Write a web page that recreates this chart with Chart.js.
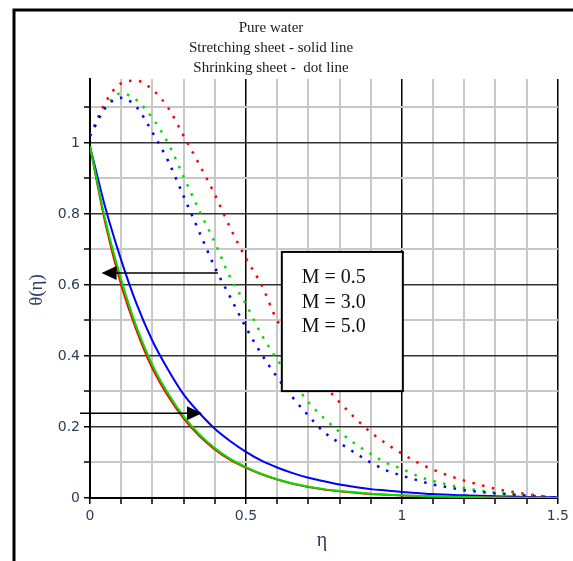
<!DOCTYPE html>
<html lang="en">
<head>
  <meta charset="UTF-8" />
  <title>Pure water - temperature profiles</title>
  <script src="https://cdn.jsdelivr.net/npm/chart.js"></script>
  <style>
    html, body { margin: 0; padding: 0; background: #fff; }
    #wrap { width: 573px; height: 561px; }
  </style>
</head>
<body>
  <div id="wrap"><canvas id="thetaChart" width="573" height="561"></canvas></div>

  <script>
    // eta grid shared by every curve
    const eta = [0, 0.05, 0.1, 0.15, 0.2, 0.25, 0.3, 0.35, 0.4, 0.45, 0.5, 0.55, 0.6, 0.65, 0.7, 0.75,
                 0.8, 0.85, 0.9, 0.95, 1.0, 1.05, 1.1, 1.15, 1.2, 1.25, 1.3, 1.35, 1.4, 1.45, 1.5];

    // stretching sheet (solid)
    const redSolid = [0.99, 0.77, 0.60, 0.47, 0.365, 0.287, 0.224, 0.175, 0.137, 0.107, 0.085, 0.067, 0.052, 0.04, 0.031, 0.024,
                      0.019, 0.015, 0.011, 0.009, 0.007, 0.0055, 0.0043, 0.0033, 0.0027, 0.002, 0.0015, 0.001, 0.001, 0.0005, 0];
    const greenSolid = [0.99, 0.78, 0.615, 0.48, 0.375, 0.295, 0.23, 0.18, 0.141, 0.11, 0.087, 0.068, 0.053, 0.041, 0.032, 0.025,
                        0.02, 0.016, 0.012, 0.0095, 0.0075, 0.006, 0.0045, 0.0035, 0.003, 0.002, 0.0015, 0.001, 0.001, 0.0005, 0];
    const blueSolid = [0.99, 0.815, 0.67, 0.545, 0.443, 0.362, 0.292, 0.24, 0.195, 0.16, 0.13, 0.105, 0.086, 0.07, 0.057, 0.047,
                       0.038, 0.031, 0.025, 0.021, 0.017, 0.014, 0.011, 0.009, 0.0075, 0.006, 0.005, 0.004, 0.003, 0.002, 0.002];

    // shrinking sheet (dotted)
    const redDot = [1.02, 1.115, 1.168, 1.175, 1.15, 1.10, 1.02, 0.94, 0.855, 0.76, 0.675, 0.60, 0.50, 0.44, 0.38, 0.32,
                    0.27, 0.225, 0.185, 0.153, 0.125, 0.10, 0.08, 0.063, 0.049, 0.037, 0.026, 0.018, 0.011, 0.005, 0];
    const greenDot = [1.02, 1.10, 1.14, 1.12, 1.07, 1.0, 0.905, 0.81, 0.72, 0.62, 0.545, 0.46, 0.39, 0.33, 0.27, 0.225,
                      0.186, 0.153, 0.124, 0.099, 0.082, 0.062, 0.048, 0.037, 0.028, 0.021, 0.015, 0.011, 0.006, 0.003, 0];
    const blueDot = [1.02, 1.10, 1.127, 1.10, 1.03, 0.95, 0.85, 0.75, 0.65, 0.565, 0.48, 0.405, 0.34, 0.283, 0.232, 0.186,
                     0.155, 0.127, 0.10, 0.078, 0.063, 0.05, 0.038, 0.03, 0.022, 0.017, 0.013, 0.01, 0.007, 0.004, 0];

    const xTicks = [0, 0.1, 0.2, 0.3, 0.4, 0.5, 0.6, 0.7, 0.8, 0.9, 1.0, 1.1, 1.2, 1.3, 1.4, 1.5];
    const xTickLabels = ['0', '', '', '', '', '0.5', '', '', '', '', '1', '', '', '', '', '1.5'];
    const yTicks = [0, 0.1, 0.2, 0.3, 0.4, 0.5, 0.6, 0.7, 0.8, 0.9, 1.0, 1.1];
    const yTickLabels = ['0', '', '0.2', '', '0.4', '', '0.6', '', '0.8', '', '1', ''];

    const titleLines = ['Pure water', 'Stretching sheet - solid line', 'Shrinking sheet -  dot line'];
    const legendLines = ['M = 0.5', 'M = 3.0', 'M = 5.0'];

    const pts = arr => eta.map((x, i) => ({ x, y: arr[i] }));
    const solid = (arr, color) => ({ data: pts(arr), borderColor: color, borderWidth: 2, pointRadius: 0, cubicInterpolationMode: 'monotone', fill: false });
    const dotted = (arr, color) => ({ data: pts(arr), borderColor: color, borderWidth: 2.5, borderDash: [2.5, 7.5], pointRadius: 0, cubicInterpolationMode: 'monotone', fill: false });

    function isMajor(v, step) {
      const r = v / step;
      return Math.abs(r - Math.round(r)) < 1e-6;
    }

    function drawArrow(ctx, x0, y, x1) {
      const dir = Math.sign(x1 - x0);
      ctx.save();
      ctx.strokeStyle = '#000';
      ctx.fillStyle = '#000';
      ctx.lineWidth = 1.5;
      ctx.beginPath();
      ctx.moveTo(x0, y);
      ctx.lineTo(x1 - dir * 12, y);
      ctx.stroke();
      ctx.beginPath();
      ctx.moveTo(x1, y);
      ctx.lineTo(x1 - dir * 15, y - 7);
      ctx.lineTo(x1 - dir * 15, y + 7);
      ctx.closePath();
      ctx.fill();
      ctx.restore();
    }

    const decorations = {
      id: 'decorations',
      beforeDraw(chart) {
        const ctx = chart.ctx;
        ctx.save();
        ctx.fillStyle = '#fff';
        ctx.fillRect(0, 0, chart.width, chart.height);
        ctx.strokeStyle = '#000';
        ctx.lineWidth = 3;
        ctx.beginPath();
        ctx.moveTo(14, chart.height);
        ctx.lineTo(14, 10);
        ctx.lineTo(chart.width, 10);
        ctx.stroke();

        ctx.fillStyle = '#1a1a1a';
        ctx.font = '15px "Liberation Serif", serif';
        ctx.textAlign = 'center';
        ctx.textBaseline = 'alphabetic';
        titleLines.forEach((t, i) => ctx.fillText(t, 271, 32 + i * 20));

        ctx.fillStyle = '#2b3d66';
        ctx.font = '20px "Liberation Serif", serif';
        ctx.textBaseline = 'middle';
        ctx.fillText('\u03b7', 322, 541);
        ctx.translate(37, 290);
        ctx.rotate(-Math.PI / 2);
        ctx.font = '19px "Liberation Serif", serif';
        ctx.fillText('\u03b8(\u03b7)', 0, 0);
        ctx.restore();
      },
      afterDatasetsDraw(chart) {
        const ctx = chart.ctx;
        const xs = chart.scales.x, ys = chart.scales.y;
        ctx.save();
        // annotation box
        const bx0 = xs.getPixelForValue(0.615), bx1 = xs.getPixelForValue(1.003);
        const by0 = ys.getPixelForValue(0.693), by1 = ys.getPixelForValue(0.301);
        ctx.fillStyle = '#fff';
        ctx.fillRect(bx0, by0, bx1 - bx0, by1 - by0);
        ctx.strokeStyle = '#000';
        ctx.lineWidth = 2;
        ctx.strokeRect(bx0, by0, bx1 - bx0, by1 - by0);
        ctx.fillStyle = '#111';
        ctx.font = '20px "Liberation Serif", serif';
        ctx.textAlign = 'left';
        ctx.textBaseline = 'alphabetic';
        const lx = xs.getPixelForValue(0.679);
        [0.606, 0.535, 0.468].forEach((yv, i) => ctx.fillText(legendLines[i], lx, ys.getPixelForValue(yv)));

        // arrows
        drawArrow(ctx, xs.getPixelForValue(0.41), ys.getPixelForValue(0.634), xs.getPixelForValue(0.037));
        drawArrow(ctx, xs.getPixelForValue(-0.032), ys.getPixelForValue(0.239), xs.getPixelForValue(0.359));
        ctx.restore();
      }
    };

    new Chart(document.getElementById('thetaChart').getContext('2d'), {
      type: 'line',
      data: {
        // first dataset is painted last (on top)
        datasets: [
          solid(greenSolid, '#00e000'),
          solid(redSolid, '#ff0000'),
          solid(blueSolid, '#0000ff'),
          dotted(blueDot, '#0000ff'),
          dotted(greenDot, '#00e000'),
          dotted(redDot, '#ff0000')
        ]
      },
      options: {
        responsive: false,
        animation: false,
        layout: { padding: { left: 0, right: 15, top: 79, bottom: 23 } },
        plugins: { legend: { display: false }, tooltip: { enabled: false } },
        scales: {
          x: {
            type: 'linear', min: 0, max: 1.5,
            afterBuildTicks: s => { s.ticks = xTicks.map(v => ({ value: v })); },
            afterFit: s => { s.height = 40; },
            ticks: {
              autoSkip: false, maxRotation: 0, padding: 4,
              color: '#2b3d55', font: { family: 'DejaVu Sans', size: 14 },
              callback: (v, i) => xTickLabels[i]
            },
            grid: {
              color: c => isMajor(c.tick.value, 0.5) ? '#000' : '#c8c8c8',
              lineWidth: c => isMajor(c.tick.value, 0.5) ? 1.5 : 2,
              tickColor: '#000', tickLength: 6, tickWidth: 1.5
            },
            border: { display: true, color: '#000', width: 2 }
          },
          y: {
            type: 'linear', min: 0, max: 1.18,
            afterBuildTicks: s => { s.ticks = yTicks.map(v => ({ value: v })); },
            afterFit: s => { s.width = 90; },
            ticks: {
              autoSkip: false, padding: 4,
              color: '#2b3d55', font: { family: 'DejaVu Sans', size: 14 },
              callback: (v, i) => yTickLabels[i]
            },
            grid: {
              color: c => isMajor(c.tick.value, 0.2) ? '#333' : '#c8c8c8',
              lineWidth: c => isMajor(c.tick.value, 0.2) ? 1.5 : 2,
              tickColor: '#000', tickLength: 6, tickWidth: 1.5
            },
            border: { display: true, color: '#000', width: 2 }
          }
        }
      },
      plugins: [decorations]
    });
  </script>
</body>
</html>
